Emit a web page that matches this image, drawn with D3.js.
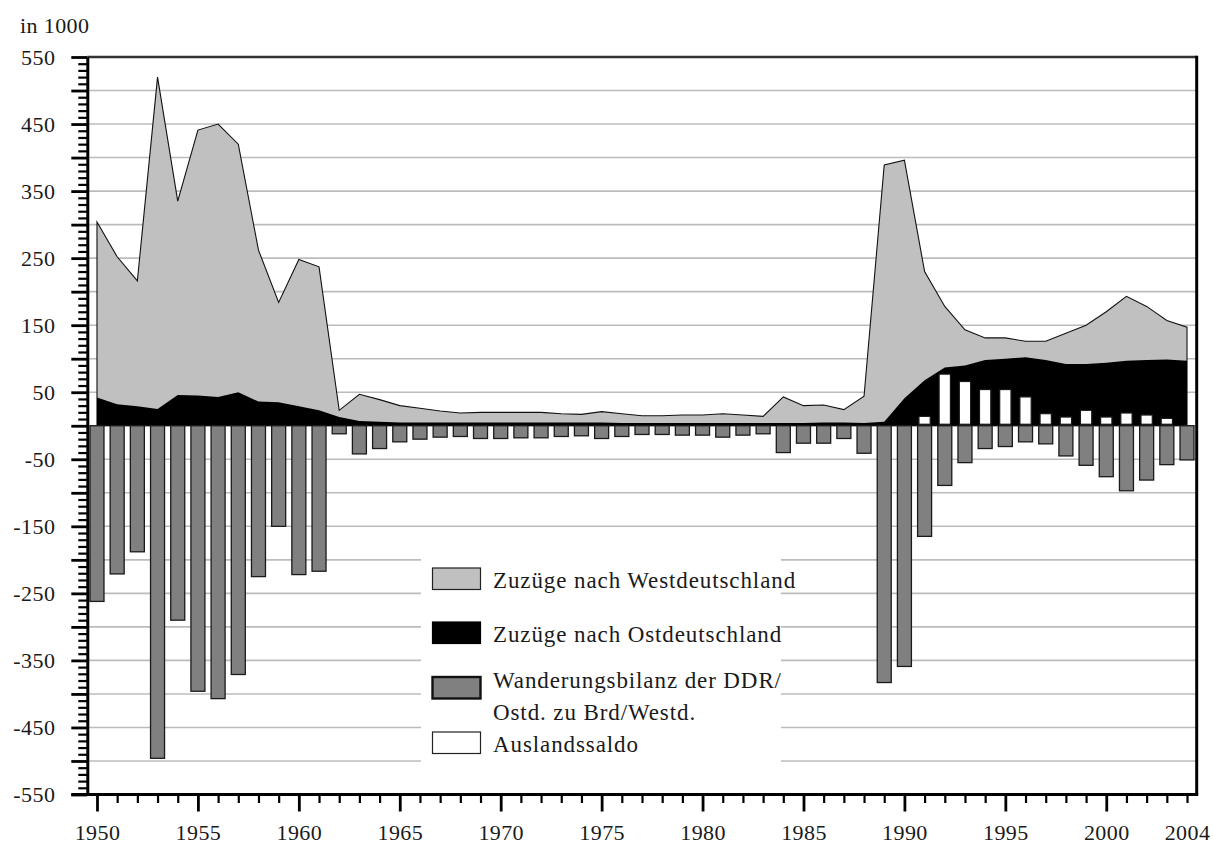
<!DOCTYPE html>
<html>
<head>
<meta charset="utf-8">
<script src="https://cdn.jsdelivr.net/npm/d3@7/dist/d3.min.js"></script>
<style>
  html, body { margin: 0; padding: 0; background: #fff; }
  svg { display: block; }
  text { font-family: "Liberation Serif", "DejaVu Serif", serif; fill: #1a1a1a; }
</style>
</head>
<body>
<svg id="chart" width="1213" height="845"></svg>
<script>
// ---------- data (thousands of persons) ----------
const years = [1950,1951,1952,1953,1954,1955,1956,1957,1958,1959,1960,1961,1962,1963,1964,1965,1966,1967,1968,1969,1970,1971,1972,1973,1974,1975,1976,1977,1978,1979,1980,1981,1982,1983,1984,1985,1986,1987,1988,1989,1990,1991,1992,1993,1994,1995,1996,1997,1998,1999,2000,2001,2002,2003,2004];
const zuzuegeWest = [304,252,216,520,335,441,450,420,262,184,248,237,23,47,39,30,26,22,19,20,20,20,20,18,17,21,18,15,15,16,16,18,16,14,43,30,31,24,44,389,396,230,178,143,131,131,126,126,138,150,170,193,178,157,147];
const zuzuegeOst = [42,32,29,25,46,45,43,50,36,35,29,23,13,7,6,5,5,5,5,5,5,5,5,5,5,5,4,4,4,4,4,4,4,4,4,4,5,5,4,6,41,68,87,90,98,100,102,98,92,92,94,97,98,99,97];
const wanderungsbilanz = [-262,-221,-188,-496,-290,-396,-407,-371,-225,-150,-222,-217,-12,-42,-34,-24,-20,-17,-16,-19,-19,-18,-18,-16,-15,-19,-16,-13,-13,-14,-14,-17,-14,-12,-40,-26,-26,-19,-41,-383,-359,-165,-89,-55,-34,-31,-24,-27,-45,-59,-76,-97,-81,-58,-51];
const auslandYears = [1991,1992,1993,1994,1995,1996,1997,1998,1999,2000,2001,2002,2003];
const auslandssaldo = [14,77,66,54,54,43,18,13,23,13,19,16,11];

const yLabelTicks = [550,450,350,250,150,50,-50,-150,-250,-350,-450,-550];
const xLabelTicks = [1950,1955,1960,1965,1970,1975,1980,1985,1990,1995,2000,2004];
const legendLabels = [
  ["Zuzüge nach Westdeutschland"],
  ["Zuzüge nach Ostdeutschland"],
  ["Wanderungsbilanz der DDR/", "Ostd. zu Brd/Westd."],
  ["Auslandssaldo"]
];
const unitLabel = "in 1000";

// ---------- layout ----------
const svg = d3.select("#chart");
const pLeft = 87.3, pRight = 1196.7, pTop = 57, pBottom = 794.5;

const x = d3.scaleLinear().domain([1949.52, 2004.48]).range([pLeft, pRight]);
const y = d3.scaleLinear().domain([-550, 550]).range([pBottom, pTop]);

const barW = 14, whiteW = 11.3;

// gridlines
svg.append("g").selectAll("line")
  .data(d3.range(-500, 501, 50))
  .join("line")
  .attr("x1", pLeft).attr("x2", pRight)
  .attr("y1", d => y(d)).attr("y2", d => y(d))
  .attr("stroke", "#bcbcbc").attr("stroke-width", 1.6);

const westData = years.map((yr, i) => ({yr, v: zuzuegeWest[i]}));
const ostData = years.map((yr, i) => ({yr, v: zuzuegeOst[i]}));

const area = d3.area().x(d => x(d.yr)).y0(y(0)).y1(d => y(d.v));

svg.append("path").datum(westData)
  .attr("d", area)
  .attr("fill", "#c0c0c0")
  .attr("stroke", "#111").attr("stroke-width", 1.1).attr("stroke-linejoin", "miter");

svg.append("path").datum(ostData)
  .attr("d", area)
  .attr("fill", "#000");

// net balance bars
svg.append("g").selectAll("rect")
  .data(years.map((yr, i) => ({yr, v: wanderungsbilanz[i]})))
  .join("rect")
  .attr("x", d => x(d.yr) - barW / 2)
  .attr("width", barW)
  .attr("y", y(0))
  .attr("height", d => y(d.v) - y(0))
  .attr("fill", "#808080")
  .attr("stroke", "#1a1a1a").attr("stroke-width", 1.3);

// foreign balance bars
svg.append("g").selectAll("rect")
  .data(auslandYears.map((yr, i) => ({yr, v: auslandssaldo[i]})))
  .join("rect")
  .attr("x", d => x(d.yr) - whiteW / 2)
  .attr("width", whiteW)
  .attr("y", d => y(d.v))
  .attr("height", d => y(0) - 1.5 - y(d.v))
  .attr("fill", "#fff")
  .attr("stroke", "#1a1a1a").attr("stroke-width", 1.2);

// legend
const lg = svg.append("g");
lg.append("rect").attr("x", 421).attr("y", 540).attr("width", 360).attr("height", 245).attr("fill", "#fff");
const legendStyles = [
  {fill: "#c0c0c0", stroke: "#222", sw: 1.2, y: 568, texts: [588]},
  {fill: "#000", stroke: "#000", sw: 1.2, y: 622, texts: [642]},
  {fill: "#808080", stroke: "#111", sw: 2.4, y: 677, texts: [688, 720]},
  {fill: "#fff", stroke: "#222", sw: 1.2, y: 732, texts: [752]}
];
legendStyles.forEach((s, i) => {
  lg.append("rect").attr("x", 432.5).attr("y", s.y).attr("width", 48).attr("height", 21.5)
    .attr("fill", s.fill).attr("stroke", s.stroke).attr("stroke-width", s.sw);
  legendLabels[i].forEach((t, j) => {
    lg.append("text").attr("x", 493).attr("y", s.texts[j])
      .attr("font-size", 23).attr("letter-spacing", 0.9).text(t);
  });
});

// frame: top and right
svg.append("line").attr("x1", pLeft).attr("x2", pRight).attr("y1", pTop).attr("y2", pTop)
  .attr("stroke", "#333").attr("stroke-width", 2.4);
svg.append("line").attr("x1", pRight).attr("x2", pRight).attr("y1", pTop - 1.2).attr("y2", pBottom)
  .attr("stroke", "#000").attr("stroke-width", 3);

// y axis
const yAxis = d3.axisLeft(y)
  .tickValues(d3.range(-550, 551, 10))
  .tickSize(16).tickSizeOuter(0).tickPadding(16)
  .tickFormat(d => yLabelTicks.includes(d) ? String(d) : "");
const gy = svg.append("g").attr("transform", `translate(${pLeft},0)`).call(yAxis);
gy.select(".domain").attr("stroke", "#000").attr("stroke-width", 3);
gy.selectAll(".tick line")
  .attr("x2", d => (d % 50 === 0) ? -16 : -9)
  .attr("stroke", "#000")
  .attr("stroke-width", d => (d % 50 === 0) ? 2.8 : 2.2);
gy.selectAll(".tick text").attr("font-size", 22).attr("font-family", "Liberation Serif").attr("fill", "#1a1a1a").attr("letter-spacing", 0.4);

// x axis
const xAxis = d3.axisBottom(x)
  .tickValues(years)
  .tickSize(17).tickSizeOuter(0).tickPadding(13)
  .tickFormat(d => xLabelTicks.includes(d) ? String(d) : "");
const gx = svg.append("g").attr("transform", `translate(0,${pBottom})`).call(xAxis);
gx.select(".domain").attr("stroke", "#000").attr("stroke-width", 3)
  .attr("d", `M${pLeft - 16},0H${pRight + 1.5}`);
gx.selectAll(".tick line")
  .attr("y2", d => (d % 5 === 0) ? 17 : 8.5)
  .attr("stroke", "#000")
  .attr("stroke-width", d => (d % 5 === 0) ? 2.8 : 2.2);
gx.selectAll(".tick text").attr("font-size", 22).attr("font-family", "Liberation Serif").attr("fill", "#1a1a1a").attr("letter-spacing", 0.4);

// unit label
svg.append("text").attr("x", 20).attr("y", 33).attr("font-size", 22).attr("letter-spacing", 0.4).text(unitLabel);
</script>
</body>
</html>
